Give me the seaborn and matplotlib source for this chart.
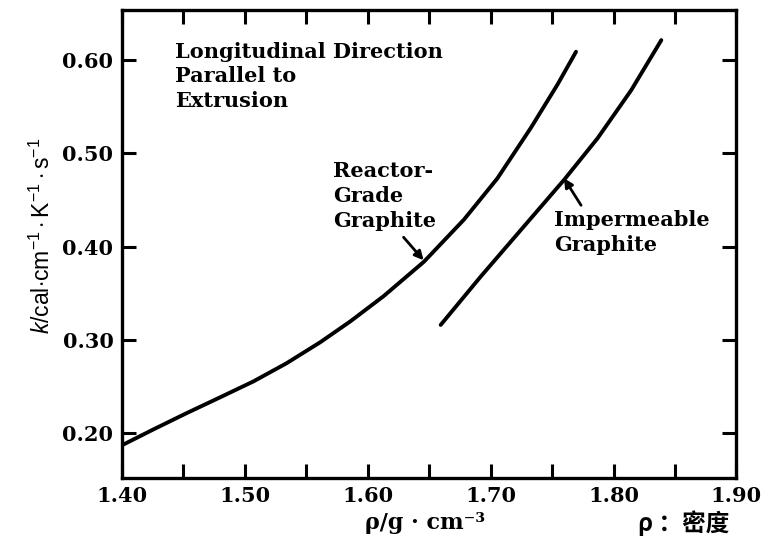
import matplotlib
matplotlib.use("Agg")
import matplotlib.pyplot as plt
import seaborn as sns
import pandas as pd

# Reactor-grade graphite
reactor_rho = [1.400, 1.4256, 1.4527, 1.480, 1.507, 1.534, 1.5615, 1.586, 1.613,
               1.6458, 1.6783, 1.7055, 1.7328, 1.7545, 1.7695]
reactor_k = [0.187, 0.2040, 0.2215, 0.2385, 0.2555, 0.2750, 0.2976, 0.3200, 0.3470,
             0.3839, 0.4290, 0.4732, 0.5275, 0.5740, 0.609]

# Impermeable graphite
imperm_rho = [1.6594, 1.692, 1.7273, 1.760, 1.787, 1.8144, 1.8389]
imperm_k = [0.3161, 0.3680, 0.4220, 0.4720, 0.5162, 0.5678, 0.6215]

x_ticks = [1.40, 1.50, 1.60, 1.70, 1.80, 1.90]
x_tick_labels = ["1.40", "1.50", "1.60", "1.70", "1.80", "1.90"]
x_minor = [1.45, 1.55, 1.65, 1.75, 1.85]
y_ticks = [0.20, 0.30, 0.40, 0.50, 0.60]
y_tick_labels = ["0.20", "0.30", "0.40", "0.50", "0.60"]

df = pd.concat([
    pd.DataFrame({"rho": reactor_rho, "k": reactor_k, "grade": "Reactor"}),
    pd.DataFrame({"rho": imperm_rho, "k": imperm_k, "grade": "Impermeable"}),
])

sns.set_style("ticks")
plt.rcParams['font.family'] = ["DejaVu Serif"]
plt.rcParams['text.color'] = "black"
plt.rcParams['xtick.color'] = "black"
plt.rcParams['ytick.color'] = "black"
plt.rcParams['xtick.labelcolor'] = "black"
plt.rcParams['ytick.labelcolor'] = "black"
plt.rcParams['mathtext.fontset'] = 'custom'
plt.rcParams['mathtext.rm'] = 'Liberation Sans'
plt.rcParams['mathtext.it'] = 'Liberation Sans:italic'

fig = plt.figure(figsize=(7.76, 5.45), dpi=100)
ax = fig.add_axes([0.157, 0.123, 0.792, 0.859])

sns.lineplot(data=df, x="rho", y="k", hue="grade", units="grade", estimator=None,
             sort=False, palette={"Reactor": "black", "Impermeable": "black"},
             linewidth=2.8, legend=False, ax=ax)
for ln in ax.lines:
    ln.set_solid_capstyle("round")
    ln.set_solid_joinstyle("round")

ax.set_xlim(1.40, 1.90)
ax.set_ylim(0.152, 0.654)
ax.set_xticks(x_ticks)
ax.set_xticklabels(x_tick_labels)
ax.set_xticks(x_minor, minor=True)
ax.set_yticks(y_ticks)
ax.set_yticklabels(y_tick_labels)

ax.tick_params(axis="both", which="both", direction="in", top=True, right=True,
               width=2.2, color="black", labelcolor="black")
ax.tick_params(axis="both", which="major", length=10, labelsize=15, pad=6)
ax.tick_params(axis="x", which="minor", length=10)
for lab in ax.get_xticklabels() + ax.get_yticklabels():
    lab.set_fontweight("bold")
for s in ax.spines.values():
    s.set_linewidth(2.4)
    s.set_color("black")

ax.set_xlabel("")
ax.set_ylabel("")

fig.text(42 / 776, 1 - 236 / 545, r"$k$/cal$\cdot$cm$^{-1}\cdot$K$^{-1}\cdot$s$^{-1}$",
         rotation=90, ha="center", va="center", fontsize=16.5, color="black",
         family=["Liberation Sans", "DejaVu Sans"])

fig.text(425 / 776, 1 - 523 / 545, "ρ/g · cm⁻³", ha="center", va="center",
         fontsize=16, fontweight="bold", color="black")
fig.text(684 / 776, 1 - 523 / 545, "ρ ：密度", ha="center", va="center",
         fontsize=17, fontweight="bold", color="black",
         family=["Noto Sans CJK SC", "DejaVu Sans"])

txt_kw = dict(ha="left", va="top", fontsize=15, fontweight="bold", linespacing=1.3,
              color="black")
ax.text(1.4432, 0.6200, "Longitudinal Direction\nParallel to\nExtrusion", **txt_kw)
ax.text(1.5721, 0.4915, "Reactor-\nGrade\nGraphite", **txt_kw)
ax.text(1.7516, 0.4390, "Impermeable\nGraphite", **txt_kw)

ax.annotate("", xy=(1.6455, 0.3854), xytext=(1.6292, 0.4101),
            arrowprops=dict(arrowstyle="-|>", color="black", lw=2.0, mutation_scale=13,
                            shrinkA=0, shrinkB=0))
ax.annotate("", xy=(1.7597, 0.4734), xytext=(1.7736, 0.4444),
            arrowprops=dict(arrowstyle="-|>", color="black", lw=2.0, mutation_scale=13,
                            shrinkA=0, shrinkB=0))

fig.savefig("out.png", dpi=100, facecolor="white")
